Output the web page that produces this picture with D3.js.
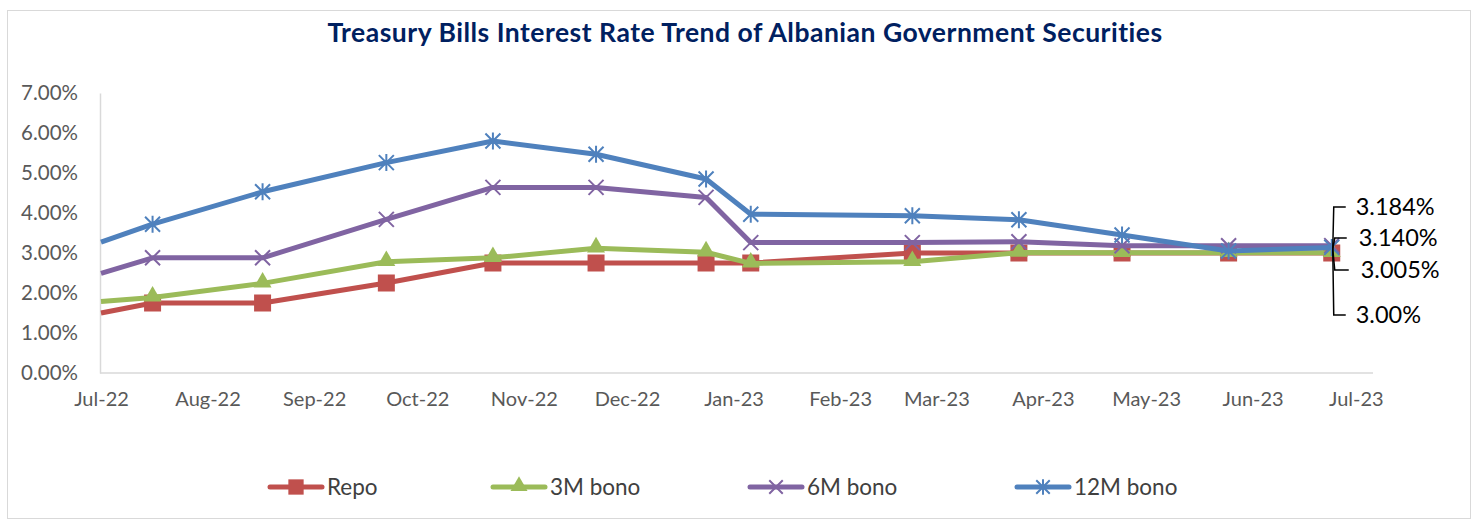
<!DOCTYPE html>
<html>
<head>
<meta charset="utf-8">
<script src="https://cdn.jsdelivr.net/npm/d3@7"></script>
<style>
  body { margin: 0; background: #fff; }
  text { font-family: Lato, "Open Sans", sans-serif; }
</style>
</head>
<body>
<div id="chart"></div>
<script>
var w = 1476;
var h = 521;

// observation dates (Excel date axis, points fall mid-month)
var dates = ["2022-07-01", "2022-07-16", "2022-08-17", "2022-09-22", "2022-10-23", "2022-11-22",
             "2022-12-24", "2023-01-06", "2023-02-22", "2023-03-25", "2023-04-24", "2023-05-25", "2023-06-24"];
var repo   = [1.50, 1.75, 1.75, 2.25, 2.75, 2.75, 2.75, 2.75, 3.00, 3.00, 3.00, 3.00, 3.00];
var bono3  = [1.79, 1.89, 2.24, 2.78, 2.88, 3.12, 3.02, 2.74, 2.78, 3.01, 3.005, 3.005, 3.005];
var bono6  = [2.49, 2.88, 2.88, 3.84, 4.64, 4.64, 4.39, 3.26, 3.26, 3.28, 3.18, 3.18, 3.184];
var bono12 = [3.27, 3.72, 4.53, 5.26, 5.80, 5.47, 4.85, 3.97, 3.93, 3.83, 3.45, 3.05, 3.14];

var seriesNames = ["Repo", "3M bono", "6M bono", "12M bono"];
var seriesValues = [repo, bono3, bono6, bono12];
var colors = ["#C0504D", "#9BBB59", "#8064A2", "#4F81BD"];
var markers = ["square", "triangle", "x", "star"];
var lastDecimals = [2, 3, 3, 3];
var yTicks = [0, 1, 2, 3, 4, 5, 6, 7];
var title = "Treasury Bills Interest Rate Trend of Albanian Government Securities";

var parse = d3.timeParse("%Y-%m-%d");
var dateObjs = dates.map(parse);

var svg = d3.select("#chart").append("svg")
  .attr("width", w)
  .attr("height", h);

// chart frame
svg.append("rect")
  .attr("x", 7.5).attr("y", 10.5)
  .attr("width", 1463).attr("height", 508)
  .attr("fill", "none")
  .attr("stroke", "#D9D9D9");

svg.append("text")
  .attr("x", 745).attr("y", 42)
  .attr("text-anchor", "middle")
  .attr("font-size", 26.5)
  .attr("font-weight", "bold")
  .attr("letter-spacing", 0.5)
  .attr("fill", "#002060")
  .text(title);

var x = d3.scaleTime()
  .domain([new Date(2022, 6, 1), new Date(2023, 6, 6)])
  .range([101, 1373]);
var y = d3.scaleLinear().domain([0, 7]).range([373, 93]);

var xAxis = d3.axisBottom(x)
  .tickValues(d3.timeMonth.range(new Date(2022, 6, 1), new Date(2023, 6, 2)))
  .tickFormat(d3.timeFormat("%b-%y"))
  .tickSize(0)
  .tickPadding(19);

var gx = svg.append("g").attr("transform", "translate(0,373)").call(xAxis);
gx.select(".domain").attr("stroke", "#D9D9D9").attr("stroke-width", 1.5)
  .attr("d", "M100,0H1373");
gx.selectAll("text").attr("font-size", 20).attr("fill", "#595959")
  .attr("font-family", "Lato, sans-serif");

var yAxis = d3.axisLeft(y)
  .tickValues(yTicks)
  .tickFormat(function(d) { return d3.format(".2f")(d) + "%"; })
  .tickSize(0)
  .tickPadding(22);

var gy = svg.append("g").attr("transform", "translate(100,0)").call(yAxis);
gy.select(".domain").attr("stroke", "#D9D9D9").attr("stroke-width", 1.5);
gy.selectAll("text").attr("font-size", 20.5).attr("fill", "#595959")
  .attr("font-family", "Lato, sans-serif");

function drawMarker(g, type, color, cx, cy, s) {
  if (type == "square") {
    g.append("rect").attr("x", cx - 8.5 * s).attr("y", cy - 8.5 * s)
      .attr("width", 17 * s).attr("height", 17 * s).attr("fill", color);
  } else if (type == "triangle") {
    g.append("path")
      .attr("d", d3.symbol().type(d3.symbolTriangle).size(140 * s)())
      .attr("transform", "translate(" + cx + "," + (cy - 1) + ")")
      .attr("fill", color);
  } else {
    var r = 7.5 * s;
    var p = "M" + (cx - r) + "," + (cy - r) + "L" + (cx + r) + "," + (cy + r) +
            "M" + (cx - r) + "," + (cy + r) + "L" + (cx + r) + "," + (cy - r);
    if (type == "star") p += "M" + cx + "," + (cy - r - 1) + "L" + cx + "," + (cy + r + 1);
    g.append("path").attr("d", p).attr("stroke", color).attr("stroke-width", 2)
      .attr("fill", "none");
  }
}

var line = d3.line()
  .x(function(d) { return x(d[0]); })
  .y(function(d) { return y(d[1]); });

seriesValues.forEach(function(vals, k) {
  var pts = vals.map(function(v, i) { return [dateObjs[i], v]; });
  var g = svg.append("g");
  g.append("path")
    .attr("d", line(pts))
    .attr("fill", "none")
    .attr("stroke", colors[k])
    .attr("stroke-width", 5)
    .attr("stroke-linejoin", "round");
  pts.forEach(function(p, i) {
    if (i == 0) return;
    drawMarker(g, markers[k], colors[k], x(p[0]), y(p[1]), 1);
  });
});

// callout labels for the last observation
var lastX = x(dateObjs[dateObjs.length - 1]);
var lastY = y(3.1);
var calloutDy = [66, 21, -42, -11];   // per series, offset of label from point
var leaderX = [14, 17, 14, 15];
var labelX = [24, 29, 24, 27];
var ann = svg.append("g");
seriesValues.forEach(function(vals, k) {
  var ly = lastY + calloutDy[k];
  var bend = (k == 1 || k == 3) ? 3 : 2;
  ann.append("path")
    .attr("d", "M" + (lastX + 1) + "," + lastY + "L" + (lastX + bend) + "," + ly +
               "L" + (lastX + leaderX[k]) + "," + ly)
    .attr("fill", "none")
    .attr("stroke", "#000")
    .attr("stroke-width", 1.5);
  ann.append("text")
    .attr("x", lastX + labelX[k])
    .attr("y", ly + 8)
    .attr("font-size", 23.5)
    .attr("fill", "#000")
    .text(d3.format("." + lastDecimals[k] + "f")(vals[vals.length - 1]) + "%");
});

// legend
var legendX = [270, 493, 750, 1017];
var leg = svg.append("g").attr("transform", "translate(0,487)");
seriesNames.forEach(function(name, k) {
  var g = leg.append("g");
  g.append("line")
    .attr("x1", legendX[k]).attr("x2", legendX[k] + 52)
    .attr("stroke", colors[k]).attr("stroke-width", 5)
    .attr("stroke-linecap", "round");
  drawMarker(g, markers[k], colors[k], legendX[k] + 26, 0, 0.9);
  g.append("text")
    .attr("x", legendX[k] + 57).attr("y", 8)
    .attr("font-size", 22.5)
    .attr("fill", "#404040")
    .text(name);
});
</script>
</body>
</html>
